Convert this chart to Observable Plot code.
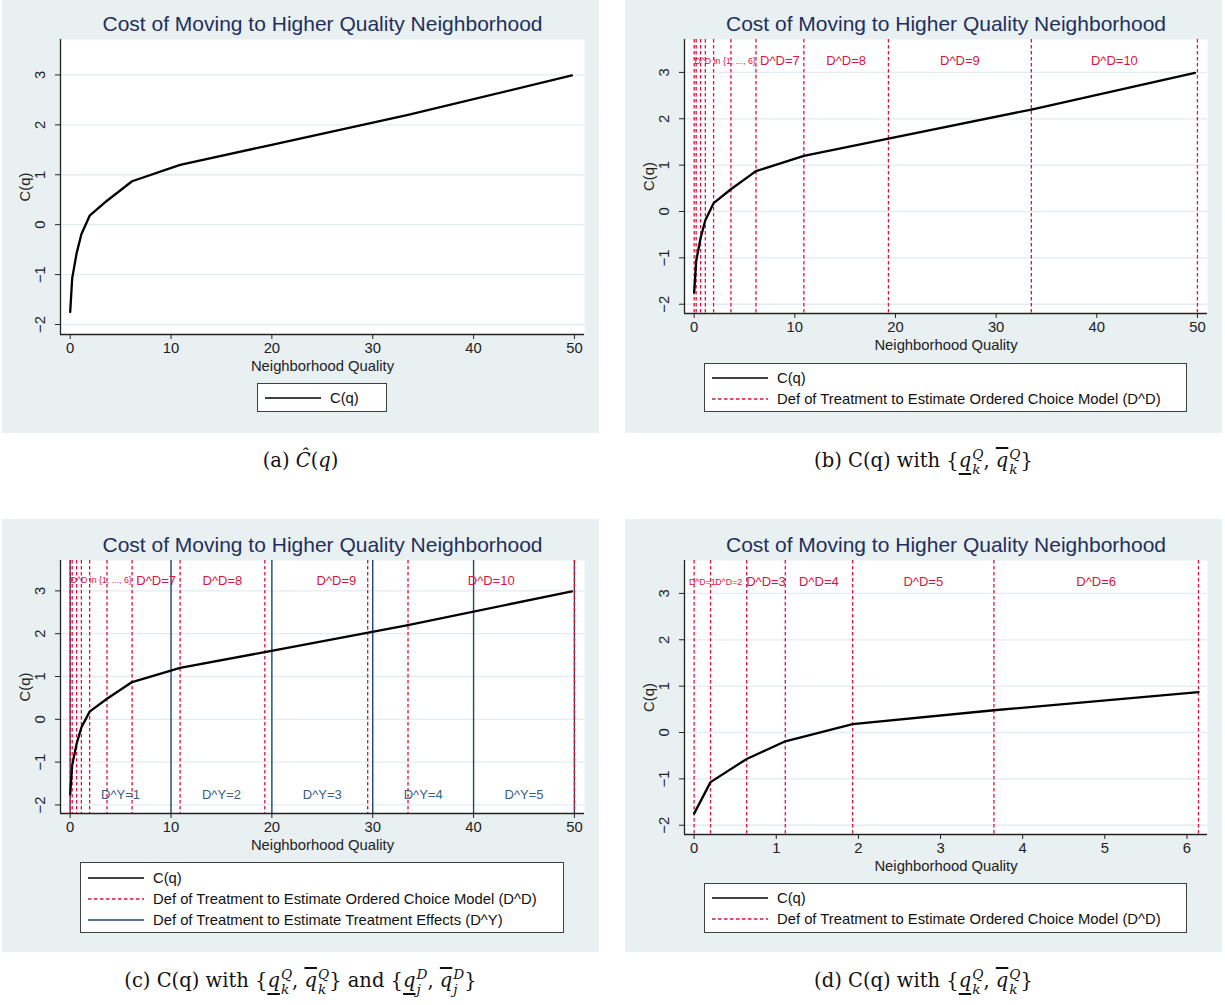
<!DOCTYPE html>
<html><head><meta charset="utf-8">
<script src="https://cdn.jsdelivr.net/npm/d3@7"></script>
<script src="https://cdn.jsdelivr.net/npm/@observablehq/plot@0.6"></script>
<style>
body{margin:0;background:#fff;width:1225px;height:1005px;position:relative;overflow:hidden;font-family:"Liberation Sans",Arial,sans-serif}
.panel{position:absolute;width:597px;height:433px;background:#e9f0f2}
.panel svg{position:absolute;left:0;top:0}
.legend{position:absolute;background:#fff;border:1px solid #404040;box-sizing:border-box}
.row{position:absolute;left:0;height:20px;width:100%}
.row svg{position:absolute;left:7px;top:0}
.row span{position:absolute;left:72px;top:0;line-height:20px;font-size:14.8px;color:#111;white-space:nowrap}
.caption{position:absolute;width:597px;text-align:center;font-family:"DejaVu Serif",serif;font-size:19.5px;line-height:30px;color:#111}
.ss{display:inline-block;vertical-align:-0.5em;line-height:1.05;font-size:0.7em;text-align:left;margin-left:1px}
.ss i{display:block}
.ul{text-decoration:underline;text-underline-offset:0.32em;text-decoration-thickness:1.5px}
.ol{text-decoration:overline;text-decoration-thickness:1.5px}
</style>
</head><body>
<script>
// ---------- data ----------
const qValues = [0, 0.2, 0.64, 1.11, 1.93, 3.65, 6.14, 10.9, 19.3, 33.5, 49.75];
const cValues = [-1.75, -1.07, -0.57, -0.19, 0.18, 0.48, 0.87, 1.2, 1.57, 2.2, 2.99];
const dBreaksB = [0, 0.2, 0.64, 1.11, 1.93, 3.65, 6.14, 10.9, 19.3, 33.5, 50];
const dBreaksC = [0, 0.2, 0.64, 1.11, 1.93, 3.65, 6.14, 10.9, 19.3, 29.5, 33.5, 50];
const dBreaksD = [0, 0.2, 0.64, 1.11, 1.93, 3.65, 6.14];
const yBreaks = [0, 10, 20, 30, 40, 50];
const dLabelsSmallBC = ["D^D in {1, ..., 6}"];
const dLabelsBC = ["D^D=7", "D^D=8", "D^D=9", "D^D=10"];
const dLabelsSmallD = ["D^D=1", "D^D=2"];
const dLabelsD = ["D^D=3", "D^D=4", "D^D=5", "D^D=6"];
const yLabels = ["D^Y=1", "D^Y=2", "D^Y=3", "D^Y=4", "D^Y=5"];
const labelTopValue = 3.24;
const labelBottomValue = -1.76;
const xTicksWide = [0, 10, 20, 30, 40, 50];
const xTicksZoom = [0, 1, 2, 3, 4, 5, 6];
const yTicks = [-2, -1, 0, 1, 2, 3];
const xDomainWide = [-0.96, 51.0];
const xDomainZoom = [-0.117, 6.25];
const yDomain = [-2.2, 3.71];
const titleText = "Cost of Moving to Higher Quality Neighborhood";
const xTitle = "Neighborhood Quality";
const yTitle = "C(q)";
const legendCurve = "C(q)";
const legendD = "Def of Treatment to Estimate Ordered Choice Model (D^D)";
const legendY = "Def of Treatment to Estimate Treatment Effects (D^Y)";

// ---------- style ----------
const RED = "#d5173f", NAVY = "#1a476f", NAVYTXT = "#34608e", TITLE = "#1f2f5c", GRID = "#e4ecef", INK = "#222";
const curve = qValues.map((q, i) => ({q, c: cValues[i]}));
const mids = (b) => b.slice(1).map((v, i) => (b[i] + v) / 2);
const fmt = d => d < 0 ? "\u2212" + Math.abs(d) : String(d);

function makePlot(cfg) {
  const marks = [
    Plot.frame({fill: "white", stroke: null}),
    Plot.gridY(yTicks, {stroke: GRID, strokeOpacity: 1, strokeWidth: 1.3}),
  ];
  if (cfg.yLines) marks.push(Plot.ruleX(cfg.yLines, {stroke: NAVY, strokeWidth: 1.4}));
  if (cfg.dLines) marks.push(Plot.ruleX(cfg.dLines, {stroke: RED, strokeWidth: 1.3, strokeDasharray: "3.5,2.5"}));
  if (cfg.smallLabels) marks.push(Plot.text(cfg.smallLabels, {x: "x", y: () => labelTopValue, text: "t", fill: RED, fontSize: 8.8}));
  if (cfg.labels) marks.push(Plot.text(cfg.labels, {x: "x", y: () => labelTopValue, text: "t", fill: RED, fontSize: 13}));
  if (cfg.yLabelData) marks.push(Plot.text(cfg.yLabelData, {x: "x", y: () => labelBottomValue, text: "t", fill: NAVYTXT, fontSize: 13}));
  marks.push(
    Plot.line(curve.filter(d => d.q <= cfg.xDomain[1]), {x: "q", y: "c", stroke: "black", strokeWidth: 2.3}),
    Plot.ruleX([cfg.xDomain[0]], {stroke: INK, strokeWidth: 1.3}),
    Plot.ruleY([yDomain[0]], {stroke: INK, strokeWidth: 1.3}),
    Plot.axisX(cfg.xTicks, {tickSize: 5, tickPadding: 3, tickFormat: fmt, label: null, stroke: INK, fill: INK}),
    Plot.axisY(yTicks, {tickSize: 5, tickFormat: () => "", label: null, stroke: INK}),
    Plot.text(yTicks, {y: d => d, frameAnchor: "left", dx: -20, rotate: -90, text: fmt, fill: INK, textAnchor: "middle", lineAnchor: "middle"}),
    Plot.text([yTitle], {frameAnchor: "left", dx: -35, rotate: -90, text: d => d, fill: INK, textAnchor: "middle", lineAnchor: "middle"}),
    Plot.text([xTitle], {frameAnchor: "bottom", dy: 32, text: d => d, fill: INK, lineAnchor: "middle"}),
    Plot.text([titleText], {frameAnchor: "top", dy: -15, text: d => d, fill: TITLE, fontSize: 21, lineAnchor: "middle"})
  );
  return Plot.plot({
    width: 597, height: 433,
    marginLeft: cfg.ml, marginRight: 15, marginTop: cfg.mt, marginBottom: cfg.mb,
    x: {domain: cfg.xDomain},
    y: {domain: yDomain},
    style: {background: "transparent", fontFamily: "'Liberation Sans', Arial, sans-serif", fontSize: "14.8px", overflow: "visible"},
    marks
  });
}

function lineSample(kind) {
  const ns = "http://www.w3.org/2000/svg";
  const s = document.createElementNS(ns, "svg");
  s.setAttribute("width", 56); s.setAttribute("height", 20);
  const l = document.createElementNS(ns, "line");
  l.setAttribute("x1", 0); l.setAttribute("x2", 56); l.setAttribute("y1", 10); l.setAttribute("y2", 10);
  if (kind === "curve") { l.setAttribute("stroke", "black"); l.setAttribute("stroke-width", 1.5); }
  if (kind === "d") { l.setAttribute("stroke", RED); l.setAttribute("stroke-width", 1.3); l.setAttribute("stroke-dasharray", "3.5,2.5"); }
  if (kind === "y") { l.setAttribute("stroke", NAVY); l.setAttribute("stroke-width", 1.5); }
  s.appendChild(l);
  return s;
}

function makeLegend(box, rows) {
  const d = document.createElement("div");
  d.className = "legend";
  Object.assign(d.style, {left: box[0] + "px", top: box[1] + "px", width: box[2] + "px", height: box[3] + "px"});
  rows.forEach(([kind, txt], i) => {
    const r = document.createElement("div");
    r.className = "row";
    r.style.top = (box[4] - 10 + i * 21) + "px";
    r.appendChild(lineSample(kind));
    const sp = document.createElement("span");
    sp.textContent = txt;
    r.appendChild(sp);
    d.appendChild(r);
  });
  return d;
}

function addPanel(left, top, cfg, legendBox, legendRows) {
  const p = document.createElement("div");
  p.className = "panel";
  p.style.left = left + "px"; p.style.top = top + "px";
  p.appendChild(makePlot(cfg));
  p.appendChild(makeLegend(legendBox, legendRows));
  document.body.appendChild(p);
}

const toObjs = (names, xs) => names.map((t, i) => ({t, x: xs[i]}));
const midsB = mids(dBreaksB);
const bcSmall = toObjs(dLabelsSmallBC, [(dBreaksB[0] + dBreaksB[6]) / 2]);
const bcLabels = toObjs(dLabelsBC, midsB.slice(6));
const midsD = mids(dBreaksD);
const dSmall = toObjs(dLabelsSmallD, midsD.slice(0, 2));
const dLabs = toObjs(dLabelsD, midsD.slice(2));
const yLabs = toObjs(yLabels, mids(yBreaks));

addPanel(2, 0, {ml: 58, mt: 39, mb: 99, xDomain: xDomainWide, xTicks: xTicksWide},
  [255, 383, 130, 29, 14], [["curve", legendCurve]]);
addPanel(625, 0, {ml: 59, mt: 39, mb: 120, xDomain: xDomainWide, xTicks: xTicksWide,
  dLines: dBreaksB, smallLabels: bcSmall, labels: bcLabels},
  [79, 363, 483, 49, 14], [["curve", legendCurve], ["d", legendD]]);
addPanel(2, 519, {ml: 58, mt: 41, mb: 139, xDomain: xDomainWide, xTicks: xTicksWide,
  dLines: dBreaksC, yLines: yBreaks, smallLabels: bcSmall, labels: bcLabels, yLabelData: yLabs},
  [78, 343, 484, 71, 15], [["curve", legendCurve], ["d", legendD], ["y", legendY]]);
addPanel(625, 519, {ml: 59, mt: 41, mb: 118, xDomain: xDomainZoom, xTicks: xTicksZoom,
  dLines: dBreaksD, smallLabels: dSmall, labels: dLabs},
  [79, 364, 483, 50, 14], [["curve", legendCurve], ["d", legendD]]);

// ---------- captions ----------
const qk = (bar, sup, sub) => `<i class="${bar}">q</i><span class="ss"><i>${sup}</i><i>${sub}</i></span>`;
const captions = [
  [2, 446, `(a) <i>Ĉ</i>(<i>q</i>)`],
  [625, 446, `(b) C(q) with {${qk("ul","Q","k")}, ${qk("ol","Q","k")}}`],
  [2, 966, `(c) C(q) with {${qk("ul","Q","k")}, ${qk("ol","Q","k")}} and {${qk("ul","D","j")}, ${qk("ol","D","j")}}`],
  [625, 966, `(d) C(q) with {${qk("ul","Q","k")}, ${qk("ol","Q","k")}}`]
];
captions.forEach(([l, t, html]) => {
  const c = document.createElement("div");
  c.className = "caption";
  c.style.left = l + "px"; c.style.top = t + "px";
  c.innerHTML = html;
  document.body.appendChild(c);
});
</script>
</body></html>
